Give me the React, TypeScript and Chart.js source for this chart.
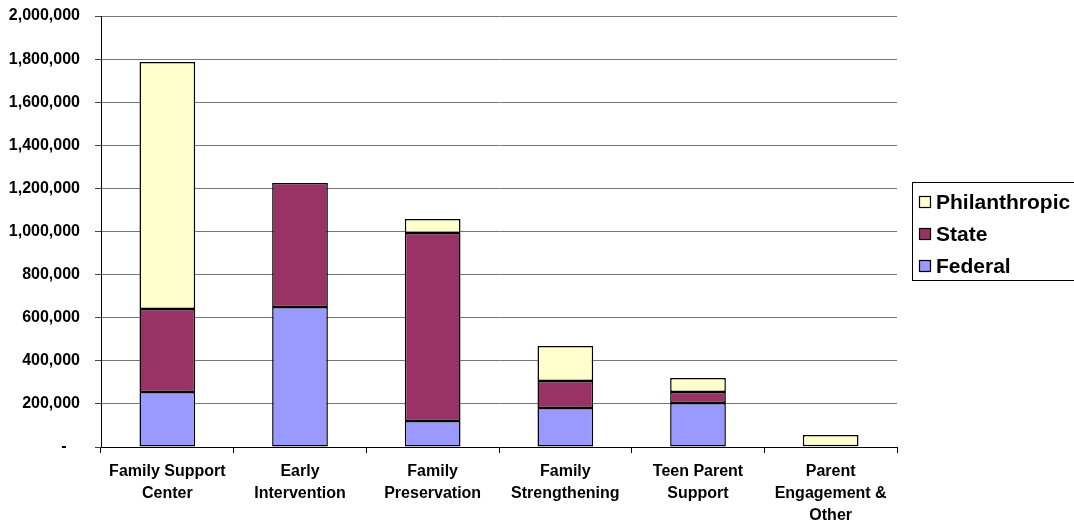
import React, { useEffect, useRef } from "react";
import { Chart, registerables } from "chart.js";

Chart.register(...registerables);

const categories: string[][] = [
  ["Family Support", "Center"],
  ["Early", "Intervention"],
  ["Family", "Preservation"],
  ["Family", "Strengthening"],
  ["Teen Parent", "Support"],
  ["Parent", "Engagement &", "Other"],
];

const federal = [255000, 650000, 121000, 181000, 204000, 0];
const state = [385000, 575000, 872000, 125000, 51000, 4000];
const philanthropic = [1146000, 0, 65000, 163000, 65000, 52000];

const yMin = 0;
const yMax = 2000000;
const yStep = 200000;
const zeroLabel = "-   ";

const seriesNames = ["Federal", "State", "Philanthropic"];
const seriesColors = ["#9999FF", "#993366", "#FFFFCC"];

const FONT = "'Liberation Sans', Arial, sans-serif";

const legendPlugin = {
  id: "customLegend",
  afterDraw(chart: any) {
    const ctx = chart.ctx;
    ctx.save();
    const bx = 912.5;
    const by = 182.5;
    ctx.fillStyle = "#fff";
    ctx.fillRect(bx, by, 200, 98);
    ctx.strokeStyle = "#000";
    ctx.lineWidth = 1;
    ctx.strokeRect(bx, by, 200, 98);
    const order = [2, 1, 0];
    const centers = [202, 234, 266];
    ctx.font = `bold 21px ${FONT}`;
    ctx.textBaseline = "middle";
    order.forEach((idx, i) => {
      const cy = centers[i];
      ctx.fillStyle = seriesColors[idx];
      ctx.fillRect(919.5, cy - 5.5, 11, 11);
      ctx.strokeStyle = "#000";
      ctx.lineWidth = 1.2;
      ctx.strokeRect(919.5, cy - 5.5, 11, 11);
      ctx.fillStyle = "#000";
      ctx.fillText(seriesNames[idx], 936, cy + 1);
    });
    ctx.restore();
  },
};

export default function App() {
  const ref = useRef<HTMLCanvasElement | null>(null);

  useEffect(() => {
    if (!ref.current) return;
    const values = [federal, state, philanthropic];
    const chart = new Chart(ref.current, {
      type: "bar",
      data: {
        labels: categories,
        datasets: values.map((v, i) => ({
          label: seriesNames[i],
          data: v,
          backgroundColor: seriesColors[i],
          borderColor: "#000",
          borderWidth: 1.5,
          borderSkipped: false,
          categoryPercentage: 1,
          barPercentage: 0.42,
        })),
      },
      options: {
        animation: false,
        responsive: true,
        maintainAspectRatio: false,
        layout: { padding: { left: 0, right: 177, top: 16, bottom: 0 } },
        plugins: {
          legend: { display: false },
          tooltip: { enabled: false },
        },
        scales: {
          x: {
            stacked: true,
            afterFit: (s: any) => {
              s.height = 73;
              s.paddingLeft = 0;
              s.paddingRight = 0;
            },
            grid: {
              offset: true,
              drawOnChartArea: false,
              drawTicks: true,
              tickLength: 6,
              color: "#000",
            },
            border: { color: "#000", width: 1 },
            ticks: {
              color: "#000",
              autoSkip: false,
              maxRotation: 0,
              minRotation: 0,
              padding: 8,
              font: { family: FONT, size: 16, weight: "bold", lineHeight: 1.37 },
            },
          },
          y: {
            stacked: true,
            min: yMin,
            max: yMax,
            afterFit: (s: any) => {
              s.width = 101;
              s.paddingTop = 0;
              s.paddingBottom = 0;
            },
            grid: {
              color: "#777",
              tickColor: "#444",
              tickLength: 6,
              drawTicks: true,
            },
            border: { color: "#000", width: 1 },
            ticks: {
              stepSize: yStep,
              color: "#000",
              padding: 15,
              font: { family: FONT, size: 16, weight: "bold" },
              callback: (v: any) =>
                Number(v) === 0 ? zeroLabel : Number(v).toLocaleString("en-US"),
            },
          },
        },
      },
      plugins: [legendPlugin],
    });
    return () => chart.destroy();
  }, []);

  return (
    <div style={{ position: "absolute", left: 0, top: 0, width: 1074, height: 520 }}>
      <canvas ref={ref} />
    </div>
  );
}
